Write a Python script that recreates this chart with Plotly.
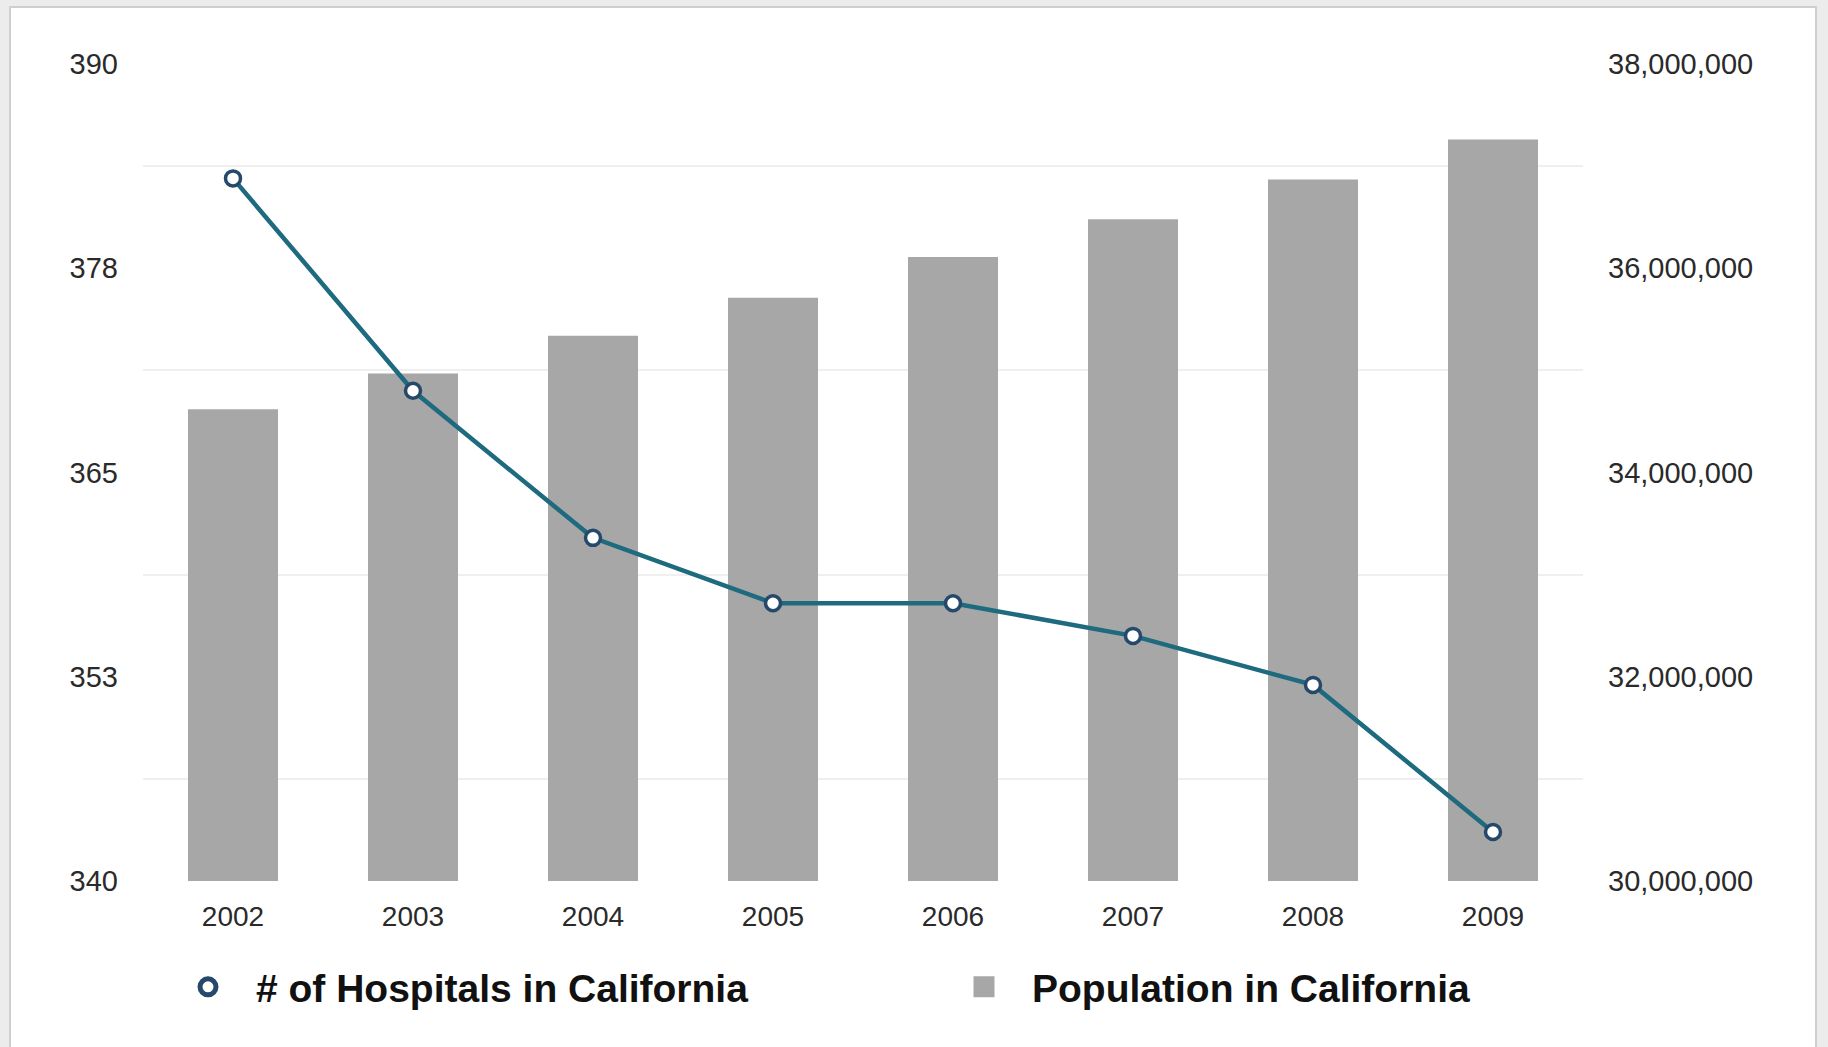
import plotly.graph_objects as go

years = ["2002", "2003", "2004", "2005", "2006", "2007", "2008", "2009"]
hospitals = [383, 370, 361, 357, 357, 355, 352, 343]
population = [34620000, 34970000, 35340000, 35710000, 36110000, 36480000, 36870000, 37260000]

left_tickvals = [340, 352.5, 365, 377.5, 390]
left_ticktext = ["340", "353", "365", "378", "390"]
right_tickvals = [30000000, 32000000, 34000000, 36000000, 38000000]
right_ticktext = ["30,000,000", "32,000,000", "34,000,000", "36,000,000", "38,000,000"]

W, H = 1828, 1047
ML, MR, MT, MB = 143, 245, 64, 166
PW, PH = W - ML - MR, H - MT - MB


def px_x(p):
    return (p - ML) / PW


def px_y(p):
    return (H - MB - p) / PH


FONT = "Liberation Sans, Arial, Helvetica, sans-serif"
BAR_COLOR = "#a7a7a7"
LINE_COLOR = "#1e6a7e"
MARKER_EDGE = "#25496b"

fig = go.Figure()
fig.add_trace(go.Bar(
    x=years, y=population, name="Population in California",
    marker=dict(color=BAR_COLOR, line=dict(width=0)),
    yaxis="y", showlegend=False,
))
fig.add_trace(go.Scatter(
    x=years, y=hospitals, name="# of Hospitals in California",
    mode="lines+markers",
    line=dict(color=LINE_COLOR, width=4.5),
    marker=dict(size=15, color="white", line=dict(color=MARKER_EDGE, width=3.5)),
    yaxis="y2", showlegend=False,
))
# legend entries (no marks drawn)
fig.add_trace(go.Scatter(
    x=[None], y=[None], name="# of Hospitals in California", mode="markers",
    marker=dict(size=16, color="white", line=dict(color=MARKER_EDGE, width=5)),
    yaxis="y2", legendrank=1, legendwidth=675,
))
fig.add_trace(go.Scatter(
    x=[None], y=[None], name="Population in California", mode="markers",
    marker=dict(size=16, symbol="square", color=BAR_COLOR, line=dict(color=BAR_COLOR, width=5)),
    yaxis="y", legendrank=2, legendwidth=450,
))

fig.add_shape(type="rect", xref="paper", yref="paper",
              x0=px_x(10), x1=px_x(1816), y0=px_y(1060), y1=px_y(7),
              fillcolor="white", line=dict(color="#cfcfcf", width=2), layer="below")

fig.update_layout(
    width=W, height=H, autosize=False,
    margin=dict(l=ML, r=MR, t=MT, b=MB),
    paper_bgcolor="#ececec", plot_bgcolor="rgba(0,0,0,0)",
    font=dict(family=FONT, color="#2a2a2a", size=29),
    bargap=0.5,
    showlegend=True,
    legend=dict(
        orientation="h", x=px_x(160), xanchor="left", y=px_y(987), yanchor="middle",
        font=dict(size=39, color="#111111", family="Liberation Sans, Arial, sans-serif", weight="bold"),
        bgcolor="rgba(0,0,0,0)", itemwidth=86, itemsizing="trace",
    ),
    xaxis=dict(
        type="category", showgrid=False, zeroline=False, showline=False,
        ticks="", ticklabelstandoff=16, tickfont=dict(size=28, color="#2a2a2a"),
    ),
    yaxis=dict(
        range=[30000000, 38000000], side="right",
        tickvals=right_tickvals, ticktext=right_ticktext,
        showgrid=False, zeroline=False, showline=False, ticks="",
        ticklabelstandoff=24, tickfont=dict(size=29, color="#2a2a2a"),
    ),
    yaxis2=dict(
        range=[340, 390], side="left", overlaying="y",
        tickvals=left_tickvals, ticktext=left_ticktext,
        showgrid=False, zeroline=False, showline=False, ticks="",
        ticklabelstandoff=24, tickfont=dict(size=29, color="#2a2a2a"),
        minor=dict(tick0=346.25, dtick=12.5, showgrid=True, gridcolor="#efefef", gridwidth=2),
    ),
)

fig.write_html("out.html")
